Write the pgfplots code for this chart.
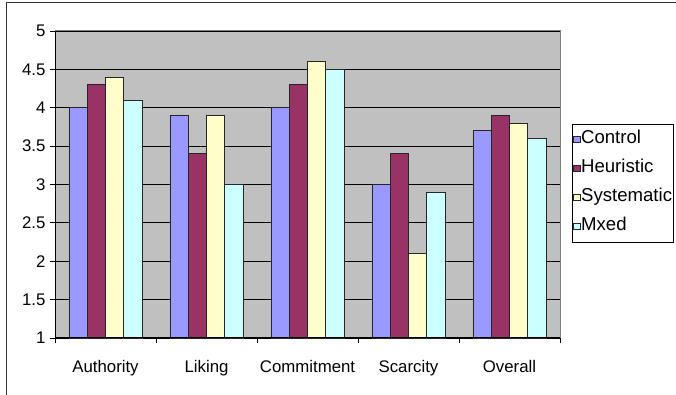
\documentclass[border=0pt]{standalone}
\usepackage{fontspec}
\setmainfont{Liberation Sans}
\usepackage{pgfplots}
\pgfplotsset{compat=1.18}
\definecolor{cControl}{HTML}{9999FF}
\definecolor{cHeur}{HTML}{993366}
\definecolor{cSys}{HTML}{FFFFCC}
\definecolor{cMix}{HTML}{CCFFFF}
\definecolor{plotbg}{HTML}{C0C0C0}
\definecolor{frameg}{HTML}{808080}
\begin{document}
\begin{tikzpicture}[x=1pt,y=1pt]
\useasboundingbox (0,0) rectangle (676,395);
\draw[line width=1.6pt, black!80] (6.5,-10) -- (6.5,392.5) -- (690,392.5);
\begin{axis}[
  at={(55pt,57pt)}, anchor=south west,
  width=505pt, height=307pt, scale only axis,
  xmin=-0.5, xmax=4.5, ymin=1, ymax=5,
  ytick={1,1.5,...,5},
  xtick={-0.5,0.5,1.5,2.5,3.5,4.5},
  x tick label as interval,
  xticklabels={Authority,Liking,Commitment,Scarcity,Overall},
  xtick pos=bottom, ytick pos=left,
  major tick length=5pt,
  tick align=outside,
  tick style={black, line width=0.8pt},
  ymajorgrids, grid style={black, line width=0.8pt},
  axis background/.style={fill=plotbg},
  axis line style={draw=none},
  /pgf/number format/assume math mode=true,
  ticklabel style={font=\fontsize{16.8}{20}\selectfont},
  yticklabel style={xshift=-1pt},
  xticklabel style={yshift=-14pt},
  ybar=0pt, bar width=18.3pt,
  legend style={at={(1.2257,0.6985)}, anchor=north east, draw=black, line width=0.8pt,
    font=\fontsize{18.6}{22}\selectfont, inner xsep=0.5pt, inner ysep=1pt, row sep=0pt,
    column sep=0pt,
    nodes={inner xsep=1pt, inner ysep=2pt, text height=13pt, text depth=5.5pt, minimum height=29pt}, cells={anchor=west}},
  legend image code/.code={\draw[#1, line width=0.6pt] (0pt,-3pt) rectangle (6.5pt,3.5pt);},
  legend cell align=left,
  clip=false,
]
\addplot[fill=cControl, draw=black!85, line width=0.7pt] coordinates {(0,4.0) (1,3.9) (2,4.0) (3,3.0) (4,3.7)};
\addplot[fill=cHeur, draw=black!85, line width=0.7pt] coordinates {(0,4.3) (1,3.4) (2,4.3) (3,3.4) (4,3.9)};
\addplot[fill=cSys, draw=black!85, line width=0.7pt] coordinates {(0,4.4) (1,3.9) (2,4.6) (3,2.1) (4,3.8)};
\addplot[fill=cMix, draw=black!85, line width=0.7pt] coordinates {(0,4.1) (1,3.0) (2,4.5) (3,2.9) (4,3.6)};
\legend{Control,Heuristic,Systematic,Mxed}
\draw[frameg, line width=1pt] (rel axis cs:0,1) -- (rel axis cs:1,1) -- (rel axis cs:1,0);
\draw[black, line width=1pt] (rel axis cs:0,1) -- (rel axis cs:0,0) -- (rel axis cs:1,0);
\end{axis}
\end{tikzpicture}
\end{document}
